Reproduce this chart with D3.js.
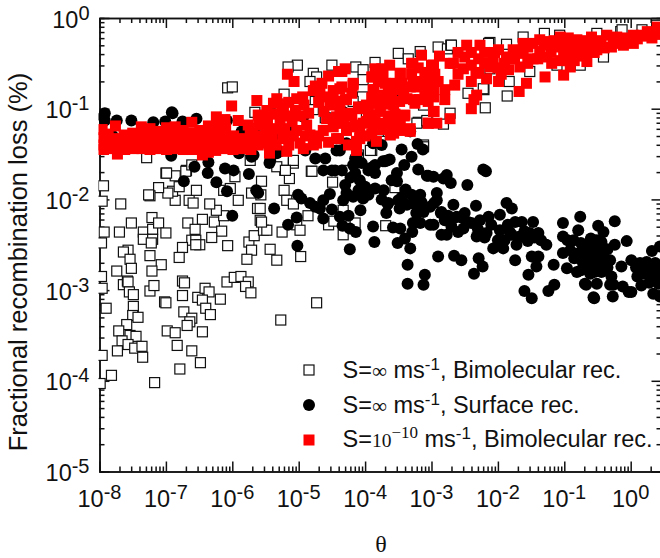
<!DOCTYPE html>
<html>
<head>
<meta charset="utf-8">
<script src="https://cdnjs.cloudflare.com/ajax/libs/d3/7.8.5/d3.min.js"></script>
<style>
html, body { margin: 0; padding: 0; background: #fff; overflow: hidden; }
svg { display: block; }
text { font-family: "Liberation Sans", Arial, sans-serif; fill: #111; }
.serif { font-family: "Liberation Serif", "Times New Roman", serif; }
</style>
</head>
<body>
<div id="chart"></div>
<script>
// all points are [log10(theta), log10(loss)]
var xExponents = [-8, -7, -6, -5, -4, -3, -2, -1, 0];
var yExponents = [0, -1, -2, -3, -4, -5];
var minorSteps = [2, 3, 4, 5, 6, 7, 8, 9];
var yLabel = 'Fractional recombination loss (%)';
var thetaLabel = '\u03b8';

var bimolecularInf = [
[-7.94,-1.85],[-7.96,-2.02],[-7.68,-2.05],[-7.93,-2.36],[-7.97,-2.48],[-7.70,-2.36],[-7.52,-2.26],[-7.34,-2.36],[-7.21,-2.20],[-7.20,-2.33],
[-7.11,-2.26],[-7.34,-2.44],[-7.20,-2.44],[-7.22,-2.48],[-7.00,-2.37],[-7.57,-2.56],[-7.64,-2.58],[-7.54,-2.66],[-7.52,-2.76],[-7.74,-2.79],
[-7.24,-2.62],[-7.07,-2.72],[-7.21,-2.79],[-6.67,-2.26],[-6.45,-2.22],[-6.27,-2.25],[-6.16,-2.35],[-6.31,-2.42],[-6.56,-2.33],[-6.61,-2.45],
[-6.55,-2.45],[-6.49,-2.50],[-6.55,-2.50],[-6.75,-2.53],[-6.80,-2.64],[-6.07,-2.51],[-5.75,-2.47],[-5.67,-2.40],[-5.71,-2.56],[-5.78,-2.66],
[-5.58,-2.23],[-5.53,-2.34],[-6.13,-2.18],[-6.24,-2.12],[-6.34,-2.05],[-5.62,-2.10],[-5.91,-2.01],[-6.65,-2.01],[-6.59,-2.04],[-6.86,-2.01],
[-6.90,-1.91],[-6.97,-1.93],[-7.11,-1.87],[-7.24,-1.96],[-7.26,-1.95],[-7.00,-1.71],[-6.86,-1.74],[-6.80,-1.86],[-6.69,-1.68],[-6.54,-1.90],
[-7.29,-1.54],[-6.13,-1.90],[-5.96,-1.75],[-5.71,-1.93],[-5.73,-1.57],[-6.03,-1.88],[-7.97,-2.85],[-7.96,-2.98],[-7.64,-2.94],[-7.58,-2.90],
[-7.57,-2.91],[-7.55,-3.02],[-7.49,-3.05],[-7.24,-3.01],[-7.18,-2.95],[-6.75,-2.90],[-6.72,-2.92],[-6.75,-3.06],[-7.02,-3.13],[-7.00,-3.14],
[-6.52,-3.08],[-6.41,-2.98],[-6.35,-3.02],[-6.45,-3.11],[-6.18,-3.10],[-6.08,-2.91],[-5.97,-2.86],[-5.87,-2.85],[-5.76,-2.91],[-5.80,-2.96],
[-5.72,-3.03],[-7.90,-3.20],[-7.49,-3.18],[-7.50,-3.28],[-7.42,-3.30],[-7.59,-3.38],[-7.71,-3.45],[-7.54,-3.50],[-7.45,-3.51],[-7.66,-3.56],
[-7.57,-3.60],[-7.73,-3.67],[-7.47,-3.64],[-7.36,-3.62],[-7.35,-3.74],[-7.96,-3.72],[-7.82,-3.94],[-7.99,-4.03],[-7.17,-4.02],[-6.79,-3.87],
[-6.48,-3.80],[-6.61,-3.67],[-6.83,-3.61],[-6.98,-3.45],[-6.86,-3.47],[-6.45,-3.46],[-6.73,-3.24],[-6.61,-3.31],[-6.64,-3.35],[-6.68,-3.39],
[-6.40,-3.20],[-6.33,-3.27],[-4.73,-3.14],[-5.27,-3.33],[-4.81,-1.69],[-5.14,-1.77],[-5.21,-1.68],[-5.33,-1.64],[-5.08,-1.60],[-4.49,-1.81],
[-5.22,-1.90],[-5.18,-2.01],[-5.08,-2.05],[-4.86,-2.18],[-4.33,-2.12],[-5.48,-2.34],[-5.25,-2.36],[-5.03,-2.28],[-4.98,-2.34],[-4.55,-2.28],
[-4.47,-2.24],[-4.33,-2.39],[-4.15,-2.26],[-3.69,-2.29],[-5.56,-2.25],[-5.43,-2.55],[-5.33,-2.67],[-4.97,-2.63],[-3.55,-1.87],[-4.28,-1.68],
[-3.80,-1.33],[-3.12,-1.40],[-3.90,-1.46],[-5.56,-1.80],[-5.57,-1.95],[-5.58,-2.10],[-5.02,-0.52],[-5.16,-0.54],[-6.07,-0.77],[-6.00,-0.76],
[-5.22,-0.84],[-5.66,-1.04],[-4.50,-0.52],[-4.78,-0.61],[-4.73,-0.65],[-4.83,-0.70],[-4.75,-0.92],[-4.14,-0.54],[-4.03,-0.57],[-4.03,-0.68],
[-3.85,-0.49],[-3.50,-0.39],[-3.35,-0.45],[-4.04,-0.87],[-3.20,-1.15],[-3.07,-1.14],[-4.18,-0.92],[-4.78,-1.01],[-3.98,-1.07],[-3.17,-0.37],
[-2.90,-0.32],[-2.76,-0.34],[-2.71,-0.30],[-2.45,-0.83],[-2.21,-0.79],[-2.19,-0.99],[-1.86,-0.86],[-1.83,-0.70],[-1.52,-0.59],[-1.62,-0.21],
[-1.30,-0.17],[-1.87,-0.29],[-2.12,-0.27],[-3.22,-1.16],[-2.82,-1.17],[-2.72,-1.05],[-3.07,-1.13],[-3.12,-0.96],[-3.92,-1.46],[-4.10,-1.51],
[-3.77,-1.36],[-3.12,-1.42],[-0.15,-0.15],[0.17,-0.13],[-0.51,-0.17],[-1.07,-0.19],[-0.41,-0.43],[-2.12,-0.56],[-1.11,-0.52],[0.39,-0.08],
[-2.70,-0.30],[-2.14,-0.28],[-2.22,-0.78],[-0.76,-0.52],[-0.13,-0.13],[-6.99,-1.71],[-6.70,-1.69],[-6.61,-1.62],[-5.08,-1.57],[-5.20,-1.68],
[-4.80,-1.69],[-7.40,-1.43],[-6.50,-1.35],[-5.80,-1.25],[-5.43,-1.05],[-4.60,-1.10],[-3.55,-0.80]
];

var surfaceInf = [
[-5.44,-1.60],[-3.45,-1.45],[-3.21,-1.39],[-3.13,-1.45],[-3.30,-1.53],[-3.41,-1.62],[-3.20,-1.67],[-3.07,-1.74],[-3.63,-1.56],[-3.70,-1.58],
[-3.85,-1.62],[-3.93,-1.66],[-3.85,-1.71],[-3.52,-1.71],[-3.60,-1.79],[-3.52,-1.80],[-3.39,-1.89],[-3.72,-1.90],[-3.85,-1.88],[-4.00,-1.86],
[-4.08,-1.79],[-4.15,-1.71],[-4.18,-1.62],[-4.30,-1.84],[-4.28,-1.93],[-4.18,-1.97],[-4.03,-1.99],[-4.33,-2.01],[-4.07,-2.12],[-4.53,-1.94],
[-4.63,-2.01],[-5.01,-1.95],[-4.96,-1.99],[-4.83,-2.04],[-4.75,-2.08],[-4.68,-2.10],[-4.50,-2.11],[-4.63,-2.21],[-5.37,-2.10],[-5.03,-2.20],
[-5.16,-2.28],[-5.02,-2.51],[-4.38,-2.19],[-4.25,-2.18],[-4.34,-2.29],[-4.23,-2.32],[-4.14,-2.36],[-4.23,-2.55],[-3.88,-2.30],[-3.86,-2.47],
[-3.58,-2.31],[-3.47,-2.32],[-3.51,-2.48],[-3.32,-2.54],[-3.40,-2.43],[-3.29,-2.36],[-3.28,-2.26],[-3.17,-2.26],[-3.22,-2.15],[-3.12,-2.14],
[-3.17,-1.95],[-3.15,-2.03],[-3.66,-2.05],[-3.68,-2.15],[-3.50,-2.01],[-3.48,-2.10],[-3.37,-2.06],[-3.36,-2.72],[-3.10,-2.83],[-3.36,-2.93],
[-3.12,-2.94],[-4.63,-1.68],[-4.50,-1.68],[-4.60,-1.55],[-4.43,-1.46],[-4.75,-1.55],[-4.90,-1.46],[-4.35,-1.68],[-3.02,-2.08],[-3.02,-2.28],
[-3.88,-1.38],[-5.28,-1.47],[-6.92,-1.52],[-6.57,-1.64],[-6.36,-1.59],[-6.37,-1.71],[-6.11,-1.66],[-5.98,-1.68],[-6.24,-1.81],[-6.08,-1.91],
[-5.75,-1.72],[-6.73,-1.80],[-5.64,-1.90],[-6.00,-2.18],[-5.68,-1.51],[-5.90,-1.49],[-5.61,-1.93],[-7.94,-1.09],[-7.74,-1.13],[-7.52,-1.13],
[-7.92,-1.05],[-7.19,-1.15],[-6.90,-1.05],[-7.01,-1.14],[-6.75,-1.14],[-6.54,-1.11],[-5.86,-1.25],[-5.71,-1.22],[-5.91,-1.31],[-5.71,-1.53],
[-5.43,-1.57],[-5.33,-1.49],[-5.13,-1.24],[-7.80,-1.30],[-7.40,-1.30],[-7.00,-1.30],[-6.60,-1.30],[-6.20,-1.35],[-5.60,-1.30],[-5.30,-1.30],
[-6.91,-1.04],[-7.92,-1.13],[-6.08,-1.13],[-4.93,-1.09],[-4.34,-1.03],[-3.63,-1.17],[-3.32,-1.25],[-3.05,-1.74],[-2.97,-1.75],[-2.77,-1.73],
[-2.82,-1.77],[-2.71,-1.82],[-2.46,-1.84],[-2.22,-1.67],[-2.18,-1.69],[-3.67,-1.57],[-3.73,-1.58],[-3.88,-1.64],[-3.95,-1.68],[-4.45,-1.68],
[-3.75,-1.40],[-4.38,-1.46],[-4.28,-1.38],[-2.92,-1.93],[-2.92,-2.01],[-2.96,-2.04],[-3.17,-2.06],[-3.65,-2.04],[-3.23,-2.15],[-2.85,-2.14],
[-2.67,-2.06],[-2.50,-2.15],[-2.33,-2.07],[-2.62,-2.19],[-2.80,-2.23],[-2.60,-2.36],[-2.85,-2.39],[-2.77,-2.39],[-2.40,-2.26],[-2.32,-2.41],
[-2.14,-2.19],[-1.97,-2.17],[-1.87,-2.04],[-1.79,-2.10],[-1.74,-2.25],[-1.64,-2.25],[-1.47,-2.25],[-2.17,-2.37],[-1.97,-2.34],[-2.07,-2.54],
[-1.92,-2.54],[-1.79,-2.39],[-1.52,-2.37],[-1.39,-2.37],[-1.27,-2.50],[-1.72,-2.50],[-1.74,-2.67],[-1.49,-2.63],[-1.39,-2.63],[-1.42,-2.74],
[-1.54,-2.83],[-2.29,-2.65],[-2.23,-2.74],[-2.36,-2.82],[-2.66,-2.62],[-2.55,-2.67],[-2.90,-2.63],[-2.86,-2.15],[-2.97,-2.28],[-2.67,-2.21],
[-2.52,-2.32],[-2.27,-2.23],[-1.82,-2.36],[-1.67,-2.41],[-1.60,-3.01],[-1.49,-3.09],[-1.24,-3.01],[-1.15,-2.94],[-0.76,-2.19],[-1.02,-2.26],
[-0.49,-2.29],[-0.24,-2.24],[-0.41,-2.36],[-0.79,-2.34],[-1.02,-2.41],[-0.86,-2.45],[-0.60,-2.43],[-0.44,-2.47],[-0.06,-2.46],[-0.24,-2.50],
[-0.71,-2.54],[-1.02,-2.59],[-0.91,-2.56],[-0.61,-2.59],[-0.44,-2.58],[-0.31,-2.67],[-0.74,-2.67],[-0.56,-2.69],[-0.46,-2.72],[-1.16,-2.72],
[-0.96,-2.76],[-0.81,-2.80],[-0.61,-2.82],[-0.44,-2.80],[0.01,-2.67],[-0.14,-2.74],[0.14,-2.70],[0.32,-2.57],[0.44,-2.52],[0.24,-2.69],
[0.37,-2.70],[0.19,-2.82],[0.29,-2.85],[0.39,-2.74],[-0.29,-2.85],[-0.67,-2.94],[-0.51,-2.93],[-0.31,-2.94],[-0.12,-2.96],[0.01,-3.02],
[-0.27,-3.07],[-0.55,-3.09],[0.16,-2.95],[0.34,-3.04],[0.44,-3.07],[-0.51,-2.45],[-0.41,-2.63],[-0.81,-2.60],[-0.66,-2.74],[-0.56,-3.08],
[-0.26,-2.94],[-0.03,-3.02],[0.42,-2.93],[-0.69,-2.93],
[-0.95,-2.45],[-0.75,-2.48],[-0.65,-2.50],[-0.55,-2.50],[-0.35,-2.55],[-0.85,-2.65],[-0.70,-2.60],[-0.52,-2.62],[-0.35,-2.75],[-0.75,-2.78],
[-0.55,-2.80],[-0.50,-2.55],[-0.62,-2.68],[-0.42,-2.68],[-2.70,-2.30],[-2.45,-2.25],[-2.30,-2.33],[-2.10,-2.28],[-2.00,-2.45],[-1.85,-2.28],
[-1.60,-2.35],[-1.45,-2.42],[-2.55,-2.20],[-2.75,-2.18],[-2.20,-2.42],[-1.90,-2.45],[-1.55,-2.46],[-1.35,-2.45],[0.08,-2.75],[0.22,-2.78],
[0.33,-2.80],[0.28,-2.92],[0.38,-2.88],[0.43,-2.80],[0.10,-2.85],[0.25,-2.75],[-4.10,-1.90],[-4.22,-1.76],[-4.05,-1.60],[-4.12,-1.50],
[-3.95,-1.95],[-3.75,-2.00],[-3.45,-1.98],[-3.30,-1.95],[-3.25,-2.05],[-4.15,-1.55]
];

var bimolecularLow = [
[-7.96,-1.23],[-7.95,-1.32],[-7.97,-1.40],[-7.94,-1.45],[-7.87,-1.28],[-7.86,-1.36],[-7.88,-1.44],[-7.76,-1.19],[-7.74,-1.33],[-7.75,-1.41],
[-7.73,-1.50],[-7.63,-1.29],[-7.61,-1.37],[-7.62,-1.45],[-7.50,-1.27],[-7.48,-1.35],[-7.49,-1.44],[-7.37,-1.20],[-7.36,-1.30],[-7.38,-1.38],
[-7.36,-1.44],[-7.24,-1.22],[-7.25,-1.32],[-7.23,-1.40],[-7.24,-1.45],[-7.11,-1.25],[-7.10,-1.34],[-7.12,-1.44],[-6.99,-1.21],[-6.98,-1.30],
[-7.00,-1.38],[-6.99,-1.45],[-6.86,-1.20],[-6.85,-1.29],[-6.87,-1.37],[-6.86,-1.44],[-6.74,-1.24],[-6.75,-1.33],[-6.73,-1.40],[-6.74,-1.45],
[-6.61,-1.15],[-6.60,-1.27],[-6.62,-1.36],[-6.61,-1.45],[-6.49,-1.24],[-6.48,-1.33],[-6.50,-1.42],[-6.45,-1.51],[-6.36,-1.19],[-6.35,-1.28],
[-6.37,-1.38],[-6.36,-1.48],[-6.24,-1.09],[-6.25,-1.20],[-6.23,-1.30],[-6.24,-1.38],[-6.25,-1.46],[-6.11,-1.12],[-6.10,-1.22],[-6.12,-1.33],
[-6.11,-1.44],[-5.98,-1.30],[-5.97,-1.38],[-5.99,-1.45],[-5.91,-1.13],[-5.86,-1.33],[-5.85,-1.44],[-5.76,-1.18],[-5.73,-1.27],[-5.74,-1.37],
[-5.72,-1.45],[-5.61,-1.07],[-5.60,-1.18],[-5.62,-1.30],[-5.61,-1.40],[-5.48,-1.02],[-5.47,-1.13],[-5.49,-1.25],[-5.48,-1.38],[-5.44,-1.49],
[-6.01,-0.97],[-5.63,-0.91],[-5.33,-0.89],[-5.38,-0.94],[-5.36,-1.06],[-5.35,-1.22],[-5.34,-1.40],[-5.17,-0.62],[-5.07,-0.70],[-5.03,-0.89],
[-4.94,-0.87],[-4.92,-0.96],[-5.23,-1.02],[-5.21,-1.22],[-5.24,-1.33],[-5.18,-1.47],[-5.10,-1.14],[-5.08,-1.30],[-5.03,-1.24],[-4.98,-1.38],
[-4.93,-1.44],[-4.88,-1.18],[-4.83,-1.29],[-4.78,-1.40],[-4.75,-0.75],[-4.65,-0.72],[-4.55,-0.64],[-4.40,-0.59],[-4.30,-0.56],[-4.35,-0.76],
[-4.18,-0.74],[-4.20,-0.83],[-4.30,-0.90],[-4.58,-0.87],[-4.68,-0.83],[-4.53,-0.96],[-3.87,-0.79],[-3.85,-0.56],[-3.63,-0.52],[-3.47,-0.61],
[-3.73,-0.61],[-3.30,-0.50],[-3.15,-0.41],[-3.00,-0.52],[-2.97,-0.76],[-2.97,-1.03],[-3.05,-1.16],[-3.22,-0.76],[-3.27,-0.90],[-3.42,-0.83],
[-3.65,-0.81],[-3.83,-0.94],[-3.98,-0.96],[-4.10,-1.00],[-3.77,-1.03],[-3.57,-0.96],[-3.40,-1.07],[-3.32,-1.22],[-3.62,-1.29],[-3.83,-1.36],
[-3.88,-1.18],[-4.08,-1.25],[-4.13,-1.36],[-4.15,-1.18],[-4.33,-1.09],[-4.43,-1.09],[-4.43,-1.33],[-4.58,-1.11],[-4.63,-1.24],[-4.48,-1.20],
[-4.28,-1.24],[-3.98,-1.14],[-3.68,-1.18],[-3.47,-1.18],[-4.73,-1.38],[-4.13,-1.46],[-4.08,-1.33],[-4.40,-1.33],[-3.57,-1.27],[-3.32,-1.25],
[-3.05,-1.16],[-2.92,-1.16],[-2.72,-1.11],[-2.96,-1.03],[-3.41,-1.08],[-2.40,-1.00],[-2.36,-0.90],[-2.32,-0.85],[-1.68,-0.81],[-1.57,-0.72],
[-1.29,-0.65],[-1.01,-0.63],[-0.91,-0.54],[-1.99,-0.70],[-2.17,-0.67],[-2.40,-0.70],[-2.65,-0.74],[-2.80,-0.90],[-2.80,-0.79],[-2.97,-0.87],
[-3.07,-0.72],[-3.25,-0.94],[-3.37,-0.89],[-3.52,-0.79],[-3.32,-0.76],[-3.75,-0.94],[-3.88,-0.79],[-4.10,-0.98],[-4.28,-0.90],[-4.38,-0.78],
[-4.18,-0.72],[-4.35,-0.59],[-3.88,-0.65],[-3.75,-0.56],[-3.47,-0.61],[-3.28,-0.50],[-2.97,-0.52],[-2.88,-0.42],[-2.67,-0.50],[-2.47,-0.30],
[-2.27,-0.30],[-2.50,-0.43],[-2.29,-0.45],[-2.07,-0.45],[-1.99,-0.35],[-1.84,-0.57],[-1.87,-0.43],[-1.62,-0.28],[-1.62,-0.39],[-1.67,-0.54],
[-1.37,-0.24],[-1.24,-0.26],[-1.47,-0.45],[-1.27,-0.43],[-1.06,-0.21],[-0.94,-0.22],[-1.01,-0.41],[-1.19,-0.50],[-0.81,-0.24],[-0.79,-0.41],
[-0.66,-0.48],[-0.59,-0.21],[-0.36,-0.19],[-0.51,-0.35],[-0.29,-0.32],[-0.11,-0.30],[-0.21,-0.21],[0.04,-0.19],[0.16,-0.19],[0.04,-0.28],
[0.32,-0.17],[0.42,-0.13],[-0.71,-0.33],[-1.11,-0.32],[-1.47,-0.28],[-2.12,-0.54],[-2.29,-0.61],[-2.52,-0.56],[-2.72,-0.50],[-1.77,-0.35],
[-0.91,-0.37],[-1.37,-0.37],[0.32,-0.22],[-0.26,-0.24],[-0.66,-0.26],[-1.01,-0.30],[-4.03,-1.16],[-3.73,-1.16],[-4.18,-1.20],[-4.33,-1.16],
[-4.45,-1.16],[-3.78,-1.01],[-4.30,-1.07],[-3.52,-1.16],[-3.47,-1.24],
[-5.25,-0.95],[-5.15,-0.93],[-5.15,-1.08],[-5.05,-1.02],[-4.97,-1.08],[-4.85,-1.05],[-4.78,-0.80],[-4.70,-0.93],[-4.62,-1.03],[-4.48,-0.80],
[-4.45,-0.92],[-4.38,-1.00],[-4.25,-1.05],[-3.90,-0.65],[-3.80,-0.70],[-3.70,-0.72],[-3.55,-0.72],[-3.45,-0.72],[-3.90,-0.88],[-3.75,-0.85],
[-3.60,-0.88],[-3.48,-0.92],[-3.70,-0.95],[-3.65,-1.08],[-3.85,-1.07],[-3.55,-1.06],[-3.75,-1.23],[-3.90,-1.28],[-3.55,-1.18],[-3.30,-0.62],
[-3.20,-0.55],[-3.10,-0.60],[-3.00,-0.65],[-3.15,-0.70],[-3.28,-0.72],[-3.10,-0.82],[-3.18,-0.90],[-3.05,-0.92],[-2.95,-0.62],[-2.90,-0.70],
[-2.60,-0.38],[-2.60,-0.62],[-2.40,-0.38],[-2.40,-0.52],[-2.20,-0.38],[-2.20,-0.50],[-2.05,-0.38],[-2.00,-0.55],[-1.95,-0.62],[-1.90,-0.50],
[-2.33,-0.60],[-1.75,-0.45],[-1.55,-0.32],[-1.55,-0.50],[-1.40,-0.45],[-1.30,-0.30],[-1.20,-0.38],[-1.15,-0.25],[-1.05,-0.47],[-0.95,-0.47],
[-0.85,-0.30],[-0.75,-0.25],[-0.85,-0.47],[-0.70,-0.42],[-0.60,-0.30],[-0.55,-0.38],[-0.45,-0.25],[-0.40,-0.33],[-0.20,-0.28],[-0.05,-0.22],
[0.10,-0.23],[0.22,-0.20],[0.37,-0.18],[-0.15,-0.25],[0.25,-0.15],[0.40,-0.10],[-5.70,-1.22],[-5.55,-1.33],[-5.40,-1.32],[-5.28,-1.12],
[-5.15,-1.40],[-4.90,-1.30],[-4.70,-1.30],[-4.55,-1.37],[-4.25,-1.40],[-4.00,-1.30],[-3.95,-1.05],[-4.20,-1.08]
];

var width = 660, height = 558;
var plotLeft = 99.5, plotRight = 661.5, plotTop = 18, plotBottom = 471.5;
var squareSize = 10, redSize = 11, dotRadius = 6;

var x = d3.scaleLog().domain([1e-8, Math.pow(10, 0.464)]).range([plotLeft, plotRight]);
var y = d3.scaleLog().domain([1e-5, 1]).range([plotBottom, plotTop]);

var svg = d3.select('#chart').append('svg').attr('width', width).attr('height', height);
svg.append('defs').append('clipPath').attr('id', 'plot')
    .append('rect').attr('x', plotLeft - 1).attr('y', plotTop).attr('width', plotRight - plotLeft + 1).attr('height', plotBottom - plotTop);

function minorTicks(exponents){
    var out = [];
    exponents.forEach(function(e){
        minorSteps.forEach(function(m){ out.push(m * Math.pow(10, e)); });
    });
    return out;
}

var xMajor = xExponents.map(function(e){ return Math.pow(10, e); });
var yMajor = yExponents.map(function(e){ return Math.pow(10, e); });
var xMinor = minorTicks(xExponents).filter(function(v){ return x(v) < plotRight; });
var yMinor = minorTicks(yExponents.slice(1));

function drawAxis(axisFn, scale, major, minor, tx, ty){
    var g = svg.append('g').attr('transform', 'translate(' + tx + ',' + ty + ')');
    g.call(axisFn(scale).tickValues(minor).tickSize(5).tickFormat(''));
    var g2 = svg.append('g').attr('transform', 'translate(' + tx + ',' + ty + ')');
    g2.call(axisFn(scale).tickValues(major).tickSize(10).tickSizeOuter(0).tickFormat(''));
    svg.selectAll('.tick line, .domain').attr('stroke', '#111').attr('stroke-width', 1.5);
}

drawAxis(d3.axisTop, x, xMajor, xMinor, 0, plotBottom);
drawAxis(d3.axisBottom, x, xMajor, xMinor, 0, plotTop);
drawAxis(d3.axisRight, y, yMajor, yMinor, plotLeft, 0);
drawAxis(d3.axisLeft, y, yMajor, yMinor, plotRight, 0);

function powerLabel(sel, exponent){
    sel.append('tspan').text('10');
    sel.append('tspan').attr('dy', -8).attr('font-size', 20).text(exponent);
}

svg.append('g').selectAll('text').data(xExponents).enter().append('text')
    .attr('x', function(d){ return x(Math.pow(10, d)); })
    .attr('y', 507)
    .attr('text-anchor', 'middle')
    .attr('font-size', 23.5)
    .each(function(d){ powerLabel(d3.select(this), d); });

svg.append('g').selectAll('text').data(yExponents).enter().append('text')
    .attr('x', 89.5)
    .attr('y', function(d){ return y(Math.pow(10, d)) + 9.5; })
    .attr('text-anchor', 'end')
    .attr('font-size', 23.5)
    .each(function(d){ powerLabel(d3.select(this), d); });

svg.append('text')
    .attr('transform', 'translate(26.5,262) rotate(-90)')
    .attr('text-anchor', 'middle')
    .attr('font-size', 25.5)
    .text(yLabel);

svg.append('text').attr('class', 'serif')
    .attr('x', 381).attr('y', 552)
    .attr('text-anchor', 'middle')
    .attr('font-size', 24)
    .text(thetaLabel);

var marks = svg.append('g').attr('clip-path', 'url(#plot)');

function px(d){ return x(Math.pow(10, d[0])); }
function py(d){ return y(Math.pow(10, d[1])); }

function drawSquares(g, data){
    g.selectAll('rect.open').data(data).enter().append('rect')
        .attr('class', 'open')
        .attr('x', function(d){ return px(d) - squareSize / 2; })
        .attr('y', function(d){ return py(d) - squareSize / 2; })
        .attr('width', squareSize).attr('height', squareSize)
        .attr('fill', '#fff').attr('stroke', '#111').attr('stroke-width', 1.2);
}

function drawDots(g, data){
    g.selectAll('circle').data(data).enter().append('circle')
        .attr('cx', px).attr('cy', py).attr('r', dotRadius).attr('fill', '#000');
}

function drawRed(g, data){
    g.selectAll('rect.red').data(data).enter().append('rect')
        .attr('class', 'red')
        .attr('x', function(d){ return px(d) - redSize / 2; })
        .attr('y', function(d){ return py(d) - redSize / 2; })
        .attr('width', redSize).attr('height', redSize)
        .attr('fill', '#ff0000');
}

drawSquares(marks, bimolecularInf);
drawDots(marks, surfaceInf);
drawRed(marks, bimolecularLow);

// legend
var legend = svg.append('g');
legend.append('rect').attr('x', 304).attr('y', 365).attr('width', squareSize).attr('height', squareSize)
    .attr('fill', '#fff').attr('stroke', '#111').attr('stroke-width', 1.2);
legend.append('circle').attr('cx', 309).attr('cy', 405).attr('r', dotRadius).attr('fill', '#000');
legend.append('rect').attr('x', 303.5).attr('y', 434.5).attr('width', redSize).attr('height', redSize).attr('fill', '#ff0000');

function legendRow(baseline, sValue, sSize, serifSup, tail){
    var t = legend.append('text').attr('x', 342.5).attr('y', baseline).attr('font-size', 23.5);
    t.append('tspan').text('S=');
    t.append('tspan').attr('class', 'serif').attr('font-size', sSize).text(sValue);
    var drop = 0;
    if (serifSup){
        t.append('tspan').attr('class', 'serif').attr('dy', -9).attr('font-size', 17).text(serifSup);
        drop = 9;
    }
    t.append('tspan').attr('dy', drop).text(' ms');
    t.append('tspan').attr('dy', -8).attr('font-size', 17).text('-1');
    t.append('tspan').attr('dy', 8).text(tail);
}

legendRow(378, '\u221e', 21, null, ', Bimolecular rec.');
legendRow(412.5, '\u221e', 21, null, ', Surface rec.');
legendRow(447, '10', 19.5, '\u221210', ', Bimolecular rec.');
</script>
</body>
</html>
